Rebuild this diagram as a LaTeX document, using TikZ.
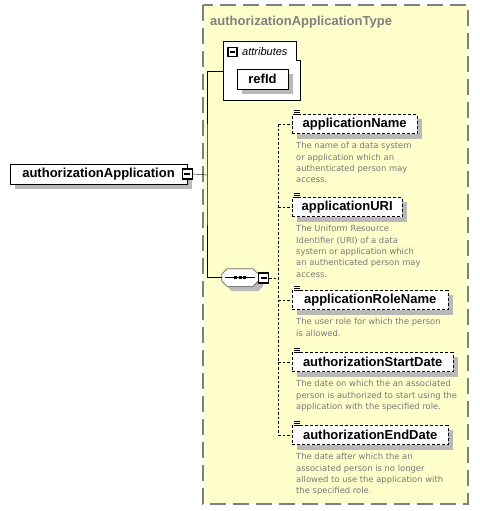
\documentclass[tikz,border=0pt]{standalone}
\usepackage{fontspec}
\setmainfont{Liberation Sans}
\newfontfamily\descfont{DejaVu Sans}
\usetikzlibrary{positioning}
\definecolor{typefill}{RGB}{255,255,204}
\definecolor{typeline}{RGB}{128,128,128}
\definecolor{shadowgray}{RGB}{185,185,185}
\definecolor{descgray}{RGB}{120,120,120}
\pgfdeclarelayer{backlayer}
\pgfdeclarelayer{shadelayer}
\pgfsetlayers{backlayer,shadelayer,main}
\tikzset{
    elem/.style={
           rectangle,
           draw=black,
           fill=white,
           minimum height=19pt,
           inner sep=0pt,
           text centered,
           font=\bfseries\fontsize{13pt}{15pt}\selectfont,
           },
    optelem/.style={
           elem,
           dash pattern=on 3pt off 2pt,
           },
    shadowbox/.style={
           fill=shadowgray,
           draw=none,
           },
    desc/.style={
           inner sep=0pt,
           align=left,
           text=descgray,
           font=\descfont\fontsize{8.4pt}{11.3pt}\selectfont,
           },
    toggle/.style={
           rectangle,
           draw=black,
           line width=1.2pt,
           fill=white,
           minimum size=10pt,
           inner sep=0pt,
           },
    conn/.style={
           draw=black,
           dash pattern=on 2.5pt off 2pt,
           },
}
% outline of the sequence compositor, #2 = extra shift
\newcommand{\seqoutline}[2]{([#2,xshift=5pt]#1.north west) -- ([#2,xshift=-5pt]#1.north east)
  -- ([#2,yshift=-5pt]#1.north east) -- ([#2,yshift=5pt]#1.south east)
  -- ([#2,xshift=-5pt]#1.south east) -- ([#2,xshift=5pt]#1.south west)
  -- ([#2,yshift=5pt]#1.south west) -- ([#2,yshift=-5pt]#1.north west) -- cycle}
\begin{document}
\begin{tikzpicture}[x=1pt,y=-1pt]
\begin{pgfonlayer}{backlayer}
\fill[white] (0,0) rectangle (479,511);
% complex type
\draw[typeline,fill=typefill,line width=1.5pt,dash pattern=on 16pt off 7pt] (203,5) rectangle (468,504);
% attributes
\draw[fill=white] (223,41.5) -- (296.5,41.5) -- (296.5,60) -- (300,60) -- (300,100) -- (223,100) -- cycle;
\end{pgfonlayer}
\useasboundingbox (0,0) rectangle (479,511);
\node[anchor=base west,inner sep=0pt,text=typeline,font=\bfseries\fontsize{13pt}{15pt}\selectfont]
  (typename) at (210,25.5) {authorizationApplicationType};
% root element
\fill[shadowbox] (15,169) rectangle (192,189);
\node[elem,minimum width=177pt,minimum height=20pt] (authapp) at (98.5,174) {authorizationApplication};
\node[toggle] (authtog) at (authapp.east) {\rule{6pt}{1.2pt}};
% attributes
\coordinate (attrin) at (223,71);
\node[toggle,minimum size=9pt] (attrtog) at (232.5,52) {\rule{5pt}{1.2pt}};
\node[anchor=base west,inner sep=0pt,font=\itshape\fontsize{11pt}{13pt}\selectfont] (attrlabel) at (242,56) {attributes};
\node[elem,minimum width=51pt,minimum height=20pt] (refid) at (262.5,79) {refId};
% sequence
\node[rectangle,minimum width=36pt,minimum height=17pt,inner sep=0pt] (seq) at (240,277.5) {};
\draw[fill=white] \seqoutline{seq}{};
\draw ([xshift=3pt]seq.west) -- ([xshift=-3pt]seq.east);
\foreach \dx in {-4.5,0,4.5}
  \fill ([xshift=\dx pt]seq.center) +(-1.5pt,-1.5pt) rectangle +(1.5pt,1.5pt);
\node[toggle] (seqtog) at (263.5,278) {\rule{6pt}{1.2pt}};
% children
\node[optelem,anchor=west,minimum width=125pt] (appname) at (292,124) {applicationName};
\node[optelem,anchor=west,minimum width=110pt] (appuri) at (292,207) {applicationURI};
\node[optelem,anchor=west,minimum width=156pt] (rolename) at (292,300) {applicationRoleName};
\node[optelem,anchor=west,minimum width=161pt] (startdate) at (292,362) {authorizationStartDate};
\node[optelem,anchor=west,minimum width=156pt] (enddate) at (292,435) {authorizationEndDate};
\foreach \c in {appname,appuri,rolename,startdate,enddate}
  \foreach \dy in {0,2,4}
    \draw[line width=0.7pt] ([xshift=2pt,yshift=\dy pt]\c.north west) -- ++(6pt,0);
\node[desc,below right=8.6pt and 4pt of appname.south west] (appnamedesc) {The name of a data system\\or application which an\\authenticated person may\\access.};
\node[desc,below right=8.6pt and 4pt of appuri.south west] (appuridesc) {The Uniform Resource\\Identifier (URI) of a data\\system or application which\\an authenticated person may\\access.};
\node[desc,below right=8.6pt and 4pt of rolename.south west] (rolenamedesc) {The user role for which the person\\is allowed.};
\node[desc,below right=8.6pt and 4pt of startdate.south west] (startdatedesc) {The date on which the an associated\\person is authorized to start using the\\application with the specified role.};
\node[desc,below right=8.6pt and 4pt of enddate.south west] (enddatedesc) {The date after which the an\\associated person is no longer\\allowed to use the application with\\the specified role.};
% shadows
\begin{pgfonlayer}{shadelayer}
\foreach \c in {refid,appname,appuri,rolename,startdate,enddate}
  \fill[shadowbox] ([shift={(5pt,-5pt)}]\c.south west) rectangle ([shift={(5pt,-5pt)}]\c.north east);
\fill[shadowbox] \seqoutline{seq}{shift={(5pt,-5pt)}};
\end{pgfonlayer}
% connectors
\coordinate (fork) at (207,175);
\coordinate (spine) at (278,278);
\draw (authtog.east) -- (fork);
\draw (attrin) -| (fork) |- (seq.west);
\draw[conn] (seqtog.east) -- (spine);
\draw[conn] (spine |- appname.west) -- (spine |- enddate.west);
\foreach \c in {appname,appuri,rolename,startdate,enddate}
  \draw[conn] (spine |- \c.west) -- (\c.west);
\end{tikzpicture}
\end{document}
